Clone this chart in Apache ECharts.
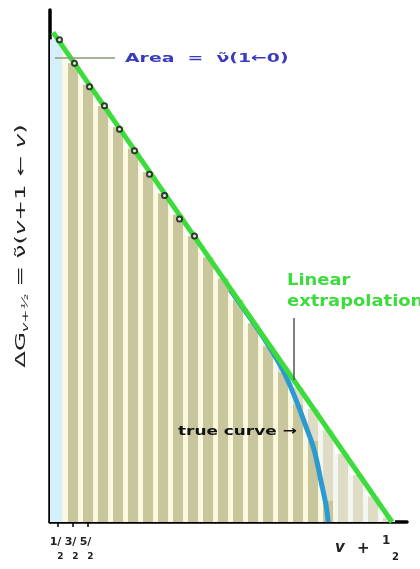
<!DOCTYPE html>
<html><head><meta charset="utf-8">
<script src="https://cdn.jsdelivr.net/npm/echarts@6/dist/echarts.min.js"></script>
<style>html,body{margin:0;padding:0;background:#fff}#c{width:420px;height:569px}</style>
</head><body><div id="c"></div>
<script>
// ---- data ----
const tickValues = [0.5, 1.5, 2.5];
const tickNumerators = ['1', '3', '5'];
const tickDenominator = '2';
// measured spacings  ΔG(v+½)
const pointX = [0.5, 1.5, 2.5, 3.5, 4.5, 5.5, 6.5, 7.5, 8.5, 9.5];
const pointY = [22.7, 21.6, 20.5, 19.6, 18.5, 17.5, 16.4, 15.4, 14.3, 13.5];
// bars: start of each unit strip, height up to the linear extrapolation, height up to the true curve
const barStart = [0,1,2,3,4,5,6,7,8,9,10,11,12,13,14,15,16,17,18,19,20,21,22];
const barHeight = [22.6,21.5,20.5,19.5,18.5,17.5,16.4,15.4,14.4,13.4,12.4,11.4,10.4,9.3,8.3,7.3,6.3,5.3,4.3,3.2,2.2,1.2,0.2];
const barTrueHeight = [22.6,21.5,20.5,19.5,18.5,17.5,16.4,15.4,14.4,13.4,12.4,11.4,10.4,9.3,8.2,7.0,5.5,3.8,1.0,0,0,0,0];
// linear extrapolation
const linearX = [0.2, 22.8];
const linearY = [22.95, 0];
// true curve (departing part; the rest lies under the linear line)
const trueX = [12.0, 13.5, 14.5, 15.5, 16.3, 17.0, 17.6, 18.1, 18.4, 18.55];
const trueY = [10.9, 9.4, 8.35, 7.15, 5.9, 4.6, 3.4, 1.8, 0.8, 0];

const C = {
  tan: '#c9c59d', lightTan: '#dfdcc6', cream: '#fbf9df', pale: '#f3f6f2', blueBar: '#d6f0fb',
  green: '#3ddc3d', blue: '#2a9bd0', text: '#222'
};

const chart = echarts.init(document.getElementById('c'), null, {renderer: 'canvas'});

const barData = barStart.map((s, i) => [s, barHeight[i], barTrueHeight[i]]);

function rectBetween(api, x0, x1, h, fill) {
  const a = api.coord([x0, h]);
  const b = api.coord([x1, 0]);
  return {type: 'rect', shape: {x: a[0], y: a[1], width: b[0] - a[0], height: b[1] - a[1]}, style: {fill: fill}};
}

const option = {
  animation: false,
  grid: {left: 50, right: 13, top: 10, bottom: 47},
  xAxis: {
    type: 'value', min: 0, max: 23.8,
    axisLine: {show: true, onZero: false, lineStyle: {color: '#000', width: 3.5}},
    axisTick: {show: true, customValues: tickValues, length: 5, lineStyle: {color: '#000', width: 1.5}},
    axisLabel: {show: false},
    splitLine: {show: false}
  },
  yAxis: {
    type: 'value', min: 0, max: 24,
    axisLine: {show: true, onZero: false, lineStyle: {color: '#000', width: 3.5}},
    axisTick: {show: false}, axisLabel: {show: false}, splitLine: {show: false}
  },
  series: [
    {
      type: 'custom', z: 1, data: barData, clip: true,
      renderItem: function (params, api) {
        const k = api.value(0), h = api.value(1), ht = api.value(2);
        const children = [];
        children.push(rectBetween(api, k, k + 1, h, C.pale));
        if (ht > 0) children.push(rectBetween(api, k, k + 1, ht, C.cream));
        if (k === 0) {
          children.push(rectBetween(api, 0, 0.82, h, C.blueBar));
        } else {
          children.push(rectBetween(api, k + 0.2, k + 0.87, h, C.lightTan));
          if (ht > 0) children.push(rectBetween(api, k + 0.2, k + 0.87, ht, C.tan));
        }
        return {type: 'group', children: children};
      }
    },
    {
      type: 'line', z: 2, smooth: 0.4, showSymbol: false,
      data: trueX.map((x, i) => [x, trueY[i]]),
      lineStyle: {color: C.blue, width: 5}
    },
    {
      type: 'line', z: 3, showSymbol: false,
      data: linearX.map((x, i) => [x, linearY[i]]),
      lineStyle: {color: C.green, width: 5}
    },
    {
      type: 'scatter', z: 4, symbol: 'emptyCircle', symbolSize: 5, symbolOffset: [2, 2],
      data: pointX.map((x, i) => [x, pointY[i]]),
      itemStyle: {color: '#111', borderColor: '#111', borderWidth: 1.6}
    }
  ]
};
chart.setOption(option);

// ---- annotations ----
const fontF = 'DejaVu Sans';
const graphics = [
  {type: 'line', z: 10, shape: {x1: 55, y1: 58, x2: 115, y2: 58}, style: {stroke: '#8c9a7a', lineWidth: 1.5}},
  {type: 'text', z: 10, x: 125, y: 59, scaleX: 1.45,
    style: {text: 'Area  =  ν̃(1←0)', fill: '#3a3ac0', font: 'bold 13px "DejaVu Sans"', verticalAlign: 'middle', align: 'left'}},
  {type: 'text', z: 10, x: 287, y: 281, scaleX: 1.12,
    style: {text: 'Linear', fill: C.green, font: 'bold 16px "DejaVu Sans"', verticalAlign: 'middle', align: 'left'}},
  {type: 'text', z: 10, x: 287, y: 302, scaleX: 1.12,
    style: {text: 'extrapolation', fill: C.green, font: 'bold 16px "DejaVu Sans"', verticalAlign: 'middle', align: 'left'}},
  {type: 'line', z: 10, shape: {x1: 294, y1: 318, x2: 294, y2: 380}, style: {stroke: '#4d5a4d', lineWidth: 1.5}},
  {type: 'text', z: 10, x: 178, y: 432, scaleX: 1.3,
    style: {text: 'true curve →', fill: '#111', font: 'bold 13px "DejaVu Sans"', verticalAlign: 'middle', align: 'left'}},
  {type: 'text', z: 10, x: 21, y: 246, rotation: Math.PI / 2, scaleX: 1.75,
    style: {
      text: '{a|ΔG}{s|v+½}{a| = ν̃(}{i|v}{a|+1 ← }{i|v}{a|)}',
      align: 'center', verticalAlign: 'middle',
      rich: {
        a: {fontSize: 14, fontFamily: fontF, fill: '#222', lineHeight: 20},
        i: {fontSize: 14, fontFamily: fontF, fontStyle: 'italic', fill: '#222', lineHeight: 20},
        s: {fontSize: 9, fontFamily: fontF, fontStyle: 'italic', fill: '#222', lineHeight: 20, padding: [9, 0, 0, 0]}
      }
    }},
  {type: 'text', z: 10, x: 335, y: 548,
    style: {text: 'v', fill: '#222', font: 'italic bold 15px "DejaVu Sans"', verticalAlign: 'middle', align: 'left'}},
  {type: 'text', z: 10, x: 357, y: 549,
    style: {text: '+', fill: '#222', font: 'bold 15px "DejaVu Sans"', verticalAlign: 'middle', align: 'left'}},
  {type: 'text', z: 10, x: 382, y: 541,
    style: {text: '1', fill: '#222', font: 'bold 12px "DejaVu Sans"', verticalAlign: 'middle', align: 'left'}},
  {type: 'text', z: 10, x: 392, y: 557,
    style: {text: '2', fill: '#222', font: 'bold 10px "DejaVu Sans"', verticalAlign: 'middle', align: 'left'}}
];
// tick labels (stacked fractions) placed at the axis tick positions
tickValues.forEach(function (v, i) {
  const p = chart.convertToPixel({gridIndex: 0}, [v, 0]);
  graphics.push({type: 'text', z: 10, x: p[0] - 2, y: p[1] + 20,
    style: {text: tickNumerators[i] + '/', fill: '#222', font: 'bold 11px "DejaVu Sans"', align: 'center', verticalAlign: 'middle'}});
  graphics.push({type: 'text', z: 10, x: p[0] + 3, y: p[1] + 35,
    style: {text: tickDenominator, fill: '#222', font: 'bold 9px "DejaVu Sans"', align: 'center', verticalAlign: 'middle'}});
});
chart.setOption({graphic: graphics});
</script>
</body></html>
